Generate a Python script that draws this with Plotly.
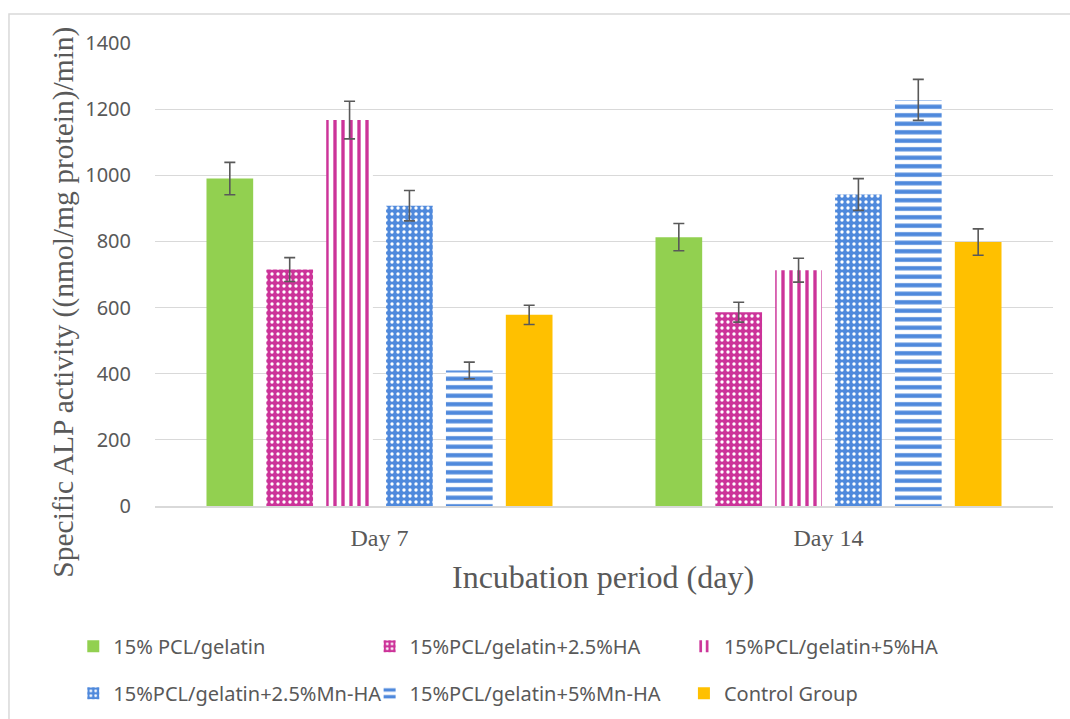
import plotly.graph_objects as go

# Incubation time points
days = ["Day 7", "Day 14"]

# Scaffold groups (legend labels)
groups = [
    "15% PCL/gelatin",
    "15%PCL/gelatin+2.5%HA",
    "15%PCL/gelatin+5%HA",
    "15%PCL/gelatin+2.5%Mn-HA",
    "15%PCL/gelatin+5%Mn-HA",
    "Control Group",
]

# Specific ALP activity per group, (Day 7, Day 14)
alp_pcl_gel = [990, 813]
alp_ha25 = [715, 586]
alp_ha5 = [1167, 713]
alp_mnha25 = [908, 942]
alp_mnha5 = [410, 1228]
alp_control = [578, 798]

# Error bar half-heights per group, (Day 7, Day 14)
err_pcl_gel = [49, 41]
err_ha25 = [36, 30]
err_ha5 = [57, 36]
err_mnha25 = [46, 48]
err_mnha5 = [25, 62]
err_control = [29, 40]

values = [alp_pcl_gel, alp_ha25, alp_ha5, alp_mnha25, alp_mnha5, alp_control]
errors = [err_pcl_gel, err_ha25, err_ha5, err_mnha25, err_mnha5, err_control]

GREEN = "#92D050"
PINK = "#CC3399"
BLUE = "#4F89DC"
GOLD = "#FFC000"
GREY_TEXT = "#595959"
GRID = "#D9D9D9"

markers = [
    dict(color=GREEN),
    dict(color=PINK, pattern=dict(shape=".", fgcolor="white", bgcolor=PINK,
                                  size=6, solidity=0.25, fillmode="replace")),
    dict(color=PINK, pattern=dict(shape="|", fgcolor=PINK, bgcolor="white",
                                  size=8, solidity=0.42, fillmode="replace")),
    dict(color=BLUE, pattern=dict(shape=".", fgcolor="white", bgcolor=BLUE,
                                  size=6, solidity=0.25, fillmode="replace")),
    dict(color=BLUE, pattern=dict(shape="-", fgcolor=BLUE, bgcolor="white",
                                  size=8.5, solidity=0.5, fillmode="replace")),
    dict(color=GOLD),
]

# each legend column holds two entries
legend_ids = ["legend", "legend2", "legend3", "legend", "legend2", "legend3"]

fig = go.Figure()
for i, name in enumerate(groups):
    fig.add_trace(go.Bar(
        x=days,
        y=values[i],
        name=name,
        marker=dict(line=dict(width=0), **markers[i]),
        error_y=dict(type="data", array=errors[i], visible=True,
                     color=GREY_TEXT, thickness=1.6, width=5.5),
        legend=legend_ids[i],
        legendgroup=name,
    ))

legend_common = dict(
    orientation="v",
    yanchor="top",
    xanchor="left",
    y=-0.261,
    font=dict(family="Noto Sans", size=20, color=GREY_TEXT),
    traceorder="grouped",
    tracegroupgap=18,
    bgcolor="rgba(0,0,0,0)",
)

fig.update_layout(
    width=1070,
    height=719,
    paper_bgcolor="white",
    plot_bgcolor="white",
    margin=dict(l=155, r=17, t=43, b=213, autoexpand=False),
    barmode="group",
    bargap=0.2,
    bargroupgap=0.22,
    showlegend=True,
    legend=dict(x=-0.091, **legend_common),
    legend2=dict(x=0.239, **legend_common),
    legend3=dict(x=0.589, **legend_common),
    xaxis=dict(
        showline=True,
        linecolor=GRID,
        linewidth=1.5,
        ticks="",
        tickfont=dict(family="Liberation Serif", size=24, color=GREY_TEXT),
        ticklabelstandoff=9,
    ),
    yaxis=dict(
        range=[0, 1400],
        dtick=200,
        showgrid=True,
        gridcolor=GRID,
        gridwidth=1.3,
        zeroline=False,
        showline=False,
        ticks="",
        tickfont=dict(family="Noto Sans", size=20, color=GREY_TEXT),
        ticklabelstandoff=23,
    ),
    annotations=[
        dict(text="Specific ALP activity ((nmol/mg protein)/min)",
             xref="paper", yref="paper", x=-0.102, y=0.44,
             xanchor="center", yanchor="middle", textangle=-90,
             showarrow=False,
             font=dict(family="Liberation Serif", size=29.5, color=GREY_TEXT)),
        dict(text="Incubation period (day)",
             xref="paper", yref="paper", x=0.499, y=-0.153,
             xanchor="center", yanchor="middle", showarrow=False,
             font=dict(family="Liberation Serif", size=32, color=GREY_TEXT)),
    ],
    shapes=[
        dict(type="rect", xref="paper", yref="paper",
             x0=-0.1626, x1=1.04, y0=-0.48, y1=1.0626,
             line=dict(color=GRID, width=1.5), fillcolor="rgba(0,0,0,0)",
             layer="below"),
    ],
)

fig.write_html("out.html")
